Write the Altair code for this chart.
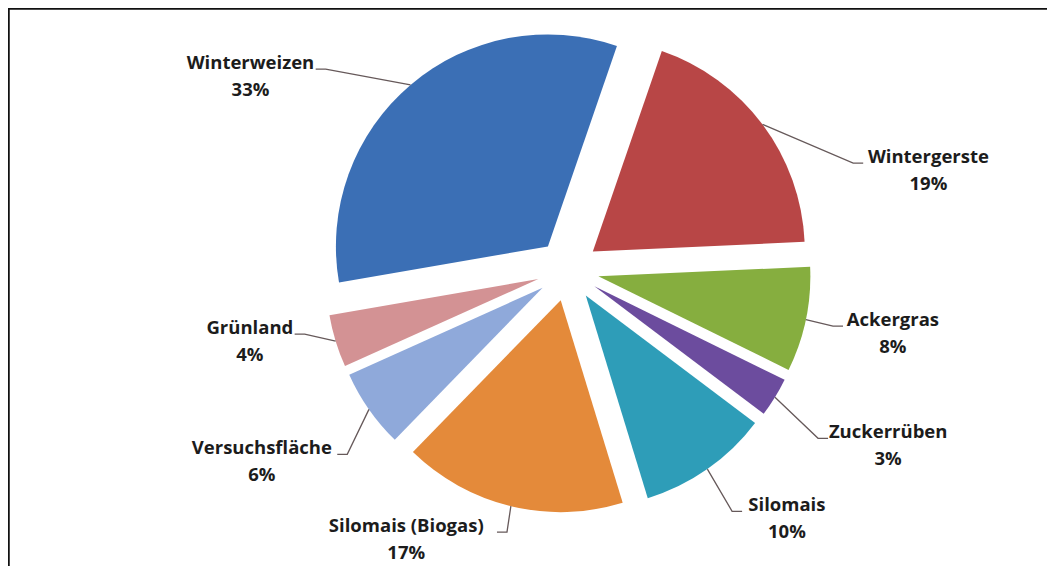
import math
import altair as alt
import pandas as pd

# ---- data -------------------------------------------------------------
categories = ["Winterweizen", "Wintergerste", "Ackergras", "Zuckerrüben",
              "Silomais", "Silomais (Biogas)", "Versuchsfläche", "Grünland"]
shares = [33, 19, 8, 3, 10, 17, 6, 4]
colors = ["#3b6fb5", "#b84646", "#86ae3f", "#6c4c9e",
          "#2e9db8", "#e48a3a", "#8fa9da", "#d39294"]

# label placement around the pie centre (polar: degrees clockwise from 12 o'clock, px)
label_angle_deg = [301.4, 74.5, 101.0, 118.7, 138.6, 211.0, 238.0, 257.4]
label_radius_px = [372, 374, 331, 365, 331, 314, 361, 326]

# ---- layout -----------------------------------------------------------
W, H = 1039, 558
CX, CY = 560, 262          # pie centre inside the plot area
R = 212                    # pie radius
EXPLODE = 31               # explosion distance of every slice
START = math.radians(260.2)
LINE_H = 27

df = pd.DataFrame({
    "name": categories,
    "share": shares,
    "order": list(range(len(categories))),
    "la": label_angle_deg,
    "lr": label_radius_px,
})
df["label"] = [f"{n}\n{s}%" for n, s in zip(categories, shares)]

xs = alt.Scale(domain=[-CX, W - CX], nice=False, zero=False)
ys = alt.Scale(domain=[-(H - CY), CY], nice=False, zero=False)

base = (
    alt.Chart(df)
    .transform_window(cum="sum(share)", sort=[alt.SortField("order")], frame=[None, 0])
    .transform_calculate(start="datum.cum - datum.share")
    .transform_calculate(mid=f"{START} + (datum.cum - datum.share/2)/100*2*PI")
    .transform_calculate(
        cx=f"{EXPLODE}*sin(datum.mid)",
        cy=f"{EXPLODE}*cos(datum.mid)",
        lx="datum.lr*sin(datum.la*PI/180)",
        ly="datum.lr*cos(datum.la*PI/180)",
    )
)

pie = base.mark_arc(radius=R).encode(
    x=alt.X("cx:Q", scale=xs, axis=None),
    y=alt.Y("cy:Q", scale=ys, axis=None),
    theta=alt.Theta("start:Q", stack=None,
                    scale=alt.Scale(type="linear", domain=[0, 100],
                                    range=[START, START + 2 * math.pi])),
    theta2="cum:Q",
    color=alt.Color("name:N", scale=alt.Scale(domain=categories, range=colors), legend=None),
)

leaders = (
    base.transform_calculate(
        side="datum.lx < 0 ? 1 : -1",
        halfw="length(datum.name)*5.1",
    )
    .transform_calculate(
        nx="datum.lx + datum.side*(datum.halfw + 4)",
        ny="datum.ly + 7",
        ax=f"datum.cx + {R}*sin(datum.mid)",
        ay=f"datum.cy + {R}*cos(datum.mid)",
    )
    .transform_calculate(
        ex="datum.nx + datum.side*10",
    )
    .transform_calculate(
        px="[datum.ax, datum.ex, datum.nx]",
        py="[datum.ay, datum.ny, datum.ny]",
        seq="[0, 1, 2]",
    )
    .transform_flatten(["px", "py", "seq"])
    .mark_line(color="#66595a", strokeWidth=1.3)
    .encode(
        x=alt.X("px:Q", scale=xs, axis=None),
        y=alt.Y("py:Q", scale=ys, axis=None),
        detail="name:N",
        order="seq:Q",
    )
)

labels = base.mark_text(
    lineBreak="\n", font="Open Sans", fontSize=18.5, fontWeight="bold",
    color="#1c1c1c", lineHeight=LINE_H, baseline="middle", align="center",
    dy=-LINE_H / 2,
).encode(
    x=alt.X("lx:Q", scale=xs, axis=None),
    y=alt.Y("ly:Q", scale=ys, axis=None),
    text="label:N",
)

frame_src = pd.DataFrame({"k": [0]})
border_top = alt.Chart(frame_src).mark_rule(color="#111111", strokeWidth=2.5).encode(
    x=alt.value(0), x2=alt.value(W), y=alt.value(0.5))
border_left = alt.Chart(frame_src).mark_rule(color="#111111", strokeWidth=2.5).encode(
    x=alt.value(0.5), y=alt.value(0), y2=alt.value(H))

chart = (
    alt.layer(pie, leaders, labels, border_top, border_left)
    .properties(width=W, height=H, autosize=alt.AutoSizeParams(type="none"), padding=0,
                background="white")
    .configure_view(stroke=None)
)

chart.save("out.html", embed_options={"renderer": "svg", "actions": False})
